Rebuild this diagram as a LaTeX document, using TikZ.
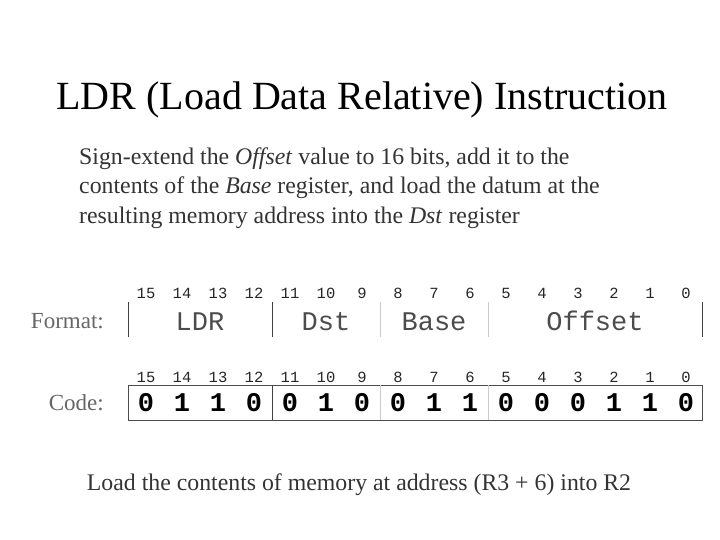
\documentclass[tikz,border=0pt]{standalone}
\usepackage{fontspec}
\setmainfont{Liberation Serif}
\newfontfamily\monofont{Liberation Mono}
\begin{document}
\begin{tikzpicture}[x=1pt,y=-1pt,
  bitnum/.style={font=\monofont\fontsize{15.5}{15.5}\selectfont, text=black!85, inner sep=0, anchor=base},
  fieldname/.style={font=\monofont\fontsize{27}{27}\selectfont, text=black!70, inner sep=0, anchor=base},
  codebit/.style={font=\monofont\bfseries\fontsize{27}{27}\selectfont, text=black, inner sep=0, anchor=base},
  label/.style={font=\fontsize{23}{23}\selectfont, text=black!60, inner sep=0, anchor=base east},
  desc/.style={inner sep=0, anchor=base west, font=\fontsize{23.8}{29}\selectfont, text=black!80},
  darkline/.style={draw=black!75, line width=0.9pt},
  lightline/.style={draw=black!20, line width=0.9pt}]
\useasboundingbox (0,0) rectangle (720,540);
% title
\node[inner sep=0, anchor=base, font=\fontsize{40}{40}\selectfont] (title) at (362,110) {LDR (Load Data Relative) Instruction};
% description
\node[desc] (d1) at (79,165) {Sign-extend the \textit{Offset} value to 16 bits, add it to the};
\node[desc] (d2) at (79,194) {contents of the \textit{Base} register, and load the datum at the};
\node[desc] (d3) at (79,223) {resulting memory address into the \textit{Dst} register};
% labels
\node[label] (fmt) at (104,328) {Format:};
\node[label] (code) at (104,410) {Code:};
% bit numbers
\foreach \i in {0,...,15}{
  \pgfmathtruncatemacro{\b}{15-\i}
  \node[bitnum] (fa\i) at (146+36*\i,298) {\b};
  \node[bitnum] (ca\i) at (146+36*\i,382) {\b};
}
% format row dividers
\coordinate (f0t) at (128,302); \coordinate (f0b) at (128,337);
\coordinate (f1t) at (272,302); \coordinate (f1b) at (272,337);
\coordinate (f2t) at (380,302); \coordinate (f2b) at (380,337);
\coordinate (f3t) at (488,302); \coordinate (f3b) at (488,337);
\coordinate (f4t) at (702,302); \coordinate (f4b) at (702,337);
\draw[darkline] (f0t) -- (f0b);
\draw[darkline] (f1t) -- (f1b);
\draw[lightline] (f2t) -- (f2b);
\draw[lightline] (f3t) -- (f3b);
\draw[darkline] (f4t) -- (f4b);
\node[fieldname] (ldr) at (200,330) {LDR};
\node[fieldname] (dst) at (326,330) {Dst};
\node[fieldname] (base) at (434,330) {Base};
\node[fieldname] (off) at (595,330) {Offset};
% code row
\coordinate (c0t) at (128,385); \coordinate (c4b) at (702,420);
\draw[draw=black!70, line width=1pt] (c0t) rectangle (c4b);
\coordinate (c1t) at (272,385); \coordinate (c1b) at (272,420);
\coordinate (c2t) at (380,385); \coordinate (c2b) at (380,420);
\coordinate (c3t) at (488,385); \coordinate (c3b) at (488,420);
\draw[darkline] (c1t) -- (c1b);
\draw[lightline] (c2t) -- (c2b);
\draw[lightline] (c3t) -- (c3b);
\foreach \v [count=\i from 0] in {0,1,1,0,0,1,0,0,1,1,0,0,0,1,1,0}{
  \node[codebit] (cb\i) at (146+36*\i,411) {\v};
}
% bottom
\node[inner sep=0, anchor=base, font=\fontsize{23.8}{23.8}\selectfont, text=black!80] (bottom) at (359,490) {Load the contents of memory at address (R3 + 6) into R2};
\end{tikzpicture}
\end{document}
